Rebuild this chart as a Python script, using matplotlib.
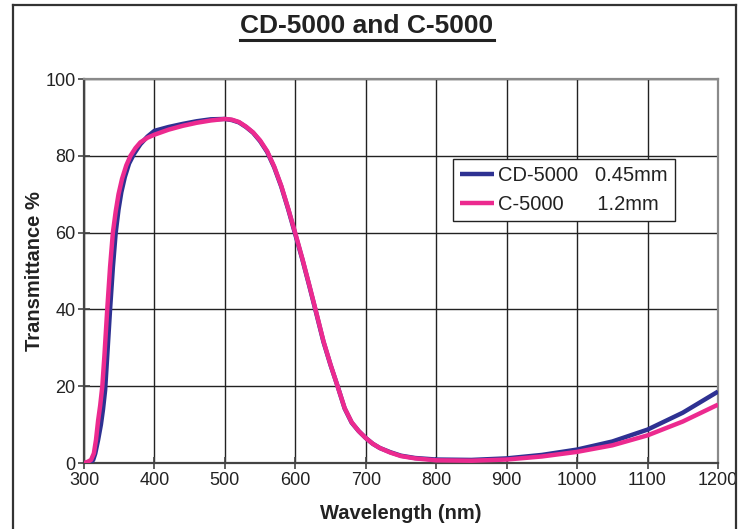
import matplotlib
matplotlib.use("Agg")
import matplotlib.pyplot as plt
from matplotlib.lines import Line2D

plt.rcParams['font.family'] = ['Liberation Sans', 'DejaVu Sans']

# CD-5000 0.45mm
cd_wl = [300, 305, 310, 313, 316, 320, 324, 327, 330, 333, 337, 341, 345, 349, 353, 358,
         364, 371, 380, 390, 400, 420, 440, 460, 480, 500, 510, 520, 530, 540, 550, 560,
         570, 580, 590, 600, 610, 620, 630, 640, 650, 660, 670, 680, 690, 700, 710, 720,
         735, 750, 770, 800, 850, 900, 950, 1000, 1050, 1100, 1150, 1200]
cd_t = [0, 0, 0.2, 0.8, 2.5, 6, 10, 14, 19, 28, 40, 51, 60, 66, 70.5, 74.5,
        78, 80.5, 83, 85, 86.5, 87.5, 88.3, 89.0, 89.5, 89.6, 89.3, 88.7, 87.5, 86, 83.8, 81,
        77, 72, 66, 59.5, 53, 46, 38.8, 31.5, 25.5, 20, 14.2, 10.5, 8.3, 6.5, 5, 3.9,
        2.8, 1.9, 1.3, 0.9, 0.8, 1.2, 2.1, 3.5, 5.6, 8.7, 13.1, 18.6]

# C-5000 1.2mm
c_wl = [300, 305, 310, 314, 317, 320, 323, 326, 329, 333, 337, 341, 345, 349, 354, 360,
        366, 373, 380, 390, 400, 420, 440, 460, 480, 500, 510, 520, 530, 540, 550, 560,
        570, 580, 590, 600, 610, 620, 630, 640, 650, 660, 670, 680, 690, 700, 710, 720,
        735, 750, 770, 800, 850, 900, 950, 1000, 1050, 1100, 1150, 1200]
c_t = [0, 0.3, 0.8, 2.5, 6, 11, 15, 20, 28, 40, 51, 60, 65.5, 70, 74, 77.5,
       80, 82, 83.5, 84.7, 85.5, 86.8, 87.8, 88.6, 89.2, 89.6, 89.4, 88.8, 87.6, 86.1, 84, 81.2,
       77.2, 72.2, 66.2, 59.8, 53.2, 46.2, 39, 31.7, 25.6, 20, 14.3, 10.6, 8.3, 6.5, 5, 3.9,
       2.7, 1.8, 1.2, 0.7, 0.6, 0.9, 1.7, 2.9, 4.6, 7.2, 10.8, 15.2]

labels = ["CD-5000   0.45mm", "C-5000      1.2mm"]
title = "CD-5000 and C-5000"
x_ticks = [300, 400, 500, 600, 700, 800, 900, 1000, 1100, 1200]
y_ticks = [0, 20, 40, 60, 80, 100]

W, H = 742, 529
fig = plt.figure(figsize=(W / 100, H / 100), dpi=100)
fig.patch.set_facecolor('white')

# figure frame
for xs, ys in [([13 / W, 13 / W], [-0.1, 1 - 5 / H]),
               ([13 / W, 736 / W], [1 - 5 / H, 1 - 5 / H]),
               ([736 / W, 736 / W], [1 - 5 / H, -0.1])]:
    fig.add_artist(Line2D(xs, ys, transform=fig.transFigure, color='#333333', lw=1.6))

ax = fig.add_axes([84 / W, (H - 463) / H, 634 / W, 384 / H])
ax.plot(cd_wl, cd_t, color='#2e3192', lw=3.2, label=labels[0], solid_capstyle='butt', zorder=3)
ax.plot(c_wl, c_t, color='#ec2a8f', lw=3.2, label=labels[1], solid_capstyle='butt', zorder=4)

ax.set_xlim(300, 1200)
ax.set_ylim(0, 100)
ax.set_xticks(x_ticks)
ax.set_yticks(y_ticks)
ax.grid(True, color='#222222', lw=1.0)
ax.set_axisbelow(True)

for s in ['left', 'bottom']:
    ax.spines[s].set_color('#444444')
    ax.spines[s].set_linewidth(1.6)
for s in ['top', 'right']:
    ax.spines[s].set_color('#8a8a8a')
    ax.spines[s].set_linewidth(1.6)

ax.tick_params(axis='y', direction='inout', length=9, width=1.2, color='#444444',
               labelsize=13, pad=1.5, labelcolor='#222222')
ax.tick_params(axis='x', direction='inout', length=8, width=1.2, color='#444444',
               labelsize=13, pad=2.5, labelcolor='#222222')

ax.set_xlabel("Wavelength (nm)", fontsize=14.5, fontweight='bold', color='#222222')
ax.set_ylabel("Transmittance %", fontsize=14.5, fontweight='bold', color='#222222')
ax.xaxis.set_label_coords(0.5, -0.108)
ax.yaxis.set_label_coords(-0.063, 0.5)

leg = ax.legend(loc='upper left', bbox_to_anchor=((453 - 84) / 634, (463 - 159) / 384),
                borderaxespad=0, fontsize=14.5, handlelength=1.7, handletextpad=0.2,
                borderpad=0.35, labelspacing=0.5, fancybox=False, framealpha=1,
                edgecolor='#222222')
leg.get_frame().set_linewidth(1.0)
for t in leg.get_texts():
    t.set_color('#222222')

tt = fig.text(367 / W, 1 - 26 / H, title, ha='center', va='center', fontsize=19,
              fontweight='bold', color='#222222')
fig.canvas.draw()
bb = tt.get_window_extent(fig.canvas.get_renderer())
uy = 1 - 39.5 / H
fig.add_artist(Line2D([bb.x0 / W, bb.x1 / W], [uy, uy], transform=fig.transFigure,
                      color='#222222', lw=2.2))

fig.savefig("out.png", dpi=100)
